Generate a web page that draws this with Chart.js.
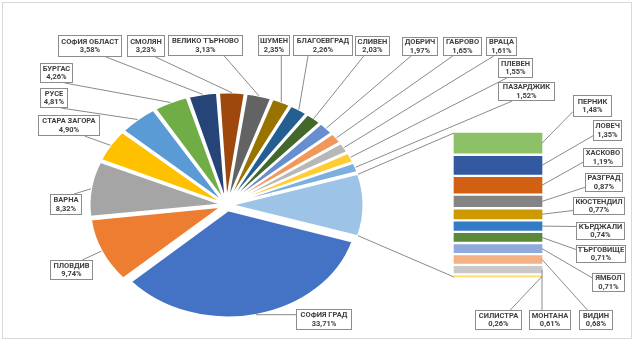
<!DOCTYPE html>
<html>
<head>
<meta charset="utf-8">
<script src="https://cdn.jsdelivr.net/npm/chart.js@4.4.1/dist/chart.umd.min.js"></script>
<style>
    html, body { margin: 0; padding: 0; background: #fff; }
    #wrap { position: relative; width: 635px; height: 344px; overflow: hidden; }
    #wrap canvas { position: absolute; left: 0; top: 0; }
    #frame { position: absolute; left: 2px; top: 2px; width: 628px; height: 335px; border: 1px solid #d9d9d9; }
</style>
</head>
<body>
<div id="wrap">
    <div id="frame"></div>
    <canvas id="barChart" width="635" height="344"></canvas>
    <canvas id="pieChart" width="635" height="344"></canvas>
</div>
<script>
// Pie slices (clockwise from the "other" slice)
const pieNames = ['СОФИЯ ГРАД', 'ПЛОВДИВ', 'ВАРНА', 'СТАРА ЗАГОРА', 'РУСЕ', 'БУРГАС', 'СОФИЯ ОБЛАСТ', 'СМОЛЯН',
    'ВЕЛИКО ТЪРНОВО', 'ШУМЕН', 'БЛАГОЕВГРАД', 'СЛИВЕН', 'ДОБРИЧ', 'ГАБРОВО', 'ВРАЦА', 'ПЛЕВЕН', 'ПАЗАРДЖИК'];
const pieValues = [33.71, 9.74, 8.32, 4.90, 4.81, 4.26, 3.58, 3.23, 3.13, 2.35, 2.26, 2.03, 1.97, 1.65, 1.61, 1.55, 1.52];

// Secondary bar (the "other" slice split up)
const barNames = ['ПЕРНИК', 'ЛОВЕЧ', 'ХАСКОВО', 'РАЗГРАД', 'КЮСТЕНДИЛ', 'КЪРДЖАЛИ', 'ТЪРГОВИЩЕ', 'ЯМБОЛ', 'ВИДИН', 'МОНТАНА', 'СИЛИСТРА'];
const barValues = [1.48, 1.35, 1.19, 0.87, 0.77, 0.74, 0.71, 0.71, 0.68, 0.61, 0.26];

const pieColors = ['#4472C4', '#ED7D31', '#A5A5A5', '#FFC000', '#5B9BD5', '#70AD47', '#264478', '#9E480E',
    '#636363', '#997300', '#255E91', '#43682B', '#698ED0', '#F1975A', '#B7B7B7', '#FFCD33', '#7CAFDD'];
const otherColor = '#9DC3E6';
const barColors = ['#8CC168', '#335AA1', '#D26012', '#848484', '#CC9A00', '#317CC4', '#5A8A39', '#8FAADC', '#F4B183', '#C9C9C9', '#FFD966'];

// label boxes [x, y, w, h]
const pieBoxes = [
    [296, 309, 56, 21], [50, 260, 43, 20], [50, 194, 32, 21], [38, 115, 62, 21], [40, 88, 28, 20],
    [40, 63, 33, 20], [58, 35, 64, 22], [127, 35, 38, 22], [168, 35, 75, 21], [258, 35, 32, 21],
    [293, 35, 60, 21], [355, 36, 35, 20], [402, 37, 36, 19], [443, 37, 39, 19], [486, 37, 31, 19],
    [498, 58, 35, 20], [498, 82, 57, 19]
];
const barBoxes = [
    [573, 95, 39, 22], [593, 120, 29, 21], [583, 148, 40, 19], [585, 173, 38, 19], [573, 197, 52, 18],
    [576, 222, 49, 18], [576, 245, 50, 18], [592, 273, 33, 19], [579, 310, 34, 20], [529, 310, 42, 20],
    [475, 310, 47, 20]
];

const SY = 0.82;     // vertical squash of the pie
const EXPLODE = 8;   // px each slice is pulled out
const otherTotal = barValues.reduce((a, b) => a + b, 0);
const pieData = pieValues.concat([otherTotal]);
const grandTotal = pieData.reduce((a, b) => a + b, 0);
const otherAngle = otherTotal / grandTotal * 360;

// Chart.js moves an arc by offset/4 * (2 - sin(circ)), so undo that to get an even explode
const pieOffsets = pieData.map(v => {
    const circ = v / grandTotal * Math.PI * 2;
    return 4 * EXPLODE / (2 - Math.sin(Math.min(Math.PI, circ)));
});

function fmt(v) {
    return v.toFixed(2).replace('.', ',') + '%';
}

const barChart = new Chart(document.getElementById('barChart'), {
    type: 'bar',
    data: {
        labels: ['Други'],
        datasets: barNames.map((n, i) => ({
            label: n,
            data: [barValues[i]],
            backgroundColor: barColors[i],
            borderColor: '#fff',
            borderWidth: 1.5,
            borderSkipped: false,
            categoryPercentage: 1,
            barPercentage: 1
        }))
    },
    options: {
        responsive: false,
        animation: false,
        devicePixelRatio: 1,
        layout: { padding: { left: 452.5, right: 635 - 543.5, top: 131.5, bottom: 344 - 278.5 } },
        plugins: { legend: { display: false }, tooltip: { enabled: false } },
        scales: {
            x: { display: false, stacked: true },
            y: { display: false, stacked: true, reverse: true, min: 0, max: otherTotal }
        }
    }
});

function box(ctx, b, name, value) {
    const [x, y, w, h] = b;
    ctx.fillStyle = '#fff';
    ctx.fillRect(x, y, w, h);
    ctx.strokeStyle = '#8c8c8c';
    ctx.lineWidth = 1;
    ctx.strokeRect(x + 0.5, y + 0.5, w - 1, h - 1);
    ctx.fillStyle = '#404040';
    ctx.font = 'bold 7.5px Roboto';
    ctx.textAlign = 'center';
    ctx.textBaseline = 'middle';
    ctx.fillText(name, x + w / 2, y + h / 2 - 4);
    ctx.fillText(fmt(value), x + w / 2, y + h / 2 + 4.5);
}

function clamp(v, a, b) { return Math.max(a, Math.min(b, v)); }

// where a leader meets a label box
function attach(b, p, preferSide) {
    const [x, y, w, h] = b;
    const dx = p.x < x ? x - p.x : (p.x > x + w ? p.x - x - w : 0);
    const dy = p.y < y ? y - p.y : (p.y > y + h ? p.y - y - h : 0);
    const side = preferSide ? dx > dy : dy === 0;
    if (side) {
        return { x: p.x < x ? x : x + w, y: clamp(p.y, y + h * 0.25, y + h * 0.75) };
    }
    return { x: clamp(p.x, x + w * 0.25, x + w * 0.75), y: p.y < y ? y : y + h };
}

function line(ctx, a, b) {
    ctx.beginPath();
    ctx.moveTo(a.x, a.y);
    ctx.lineTo(b.x, b.y);
    ctx.stroke();
}

const ellipsePlugin = {
    id: 'ellipse',
    beforeDatasetsDraw(chart) {
        const arc = chart.getDatasetMeta(0).data[0];
        const ctx = chart.ctx;
        ctx.save();
        ctx.translate(arc.x, arc.y);
        ctx.scale(1, SY);
        ctx.translate(-arc.x, -arc.y);
    },
    afterDatasetsDraw(chart) {
        chart.ctx.restore();
    }
};

const labelPlugin = {
    id: 'labels',
    afterDraw(chart) {
        const ctx = chart.ctx;
        const arcs = chart.getDatasetMeta(0).data;
        ctx.save();
        ctx.strokeStyle = '#8a8a8a';
        ctx.lineWidth = 1;

        // series lines from the "other" slice to the bar
        const oa = arcs[arcs.length - 1];
        const mid = (oa.startAngle + oa.endAngle) / 2;
        const ox = Math.cos(mid) * EXPLODE, oy = Math.sin(mid) * EXPLODE;
        const edge = a => ({
            x: oa.x + ox + Math.cos(a) * oa.outerRadius,
            y: oa.y + (oy + Math.sin(a) * oa.outerRadius) * SY
        });
        const bar0 = barChart.getDatasetMeta(0).data[0];
        const bx = bar0.x - bar0.width / 2 + 1.5;
        const ys = barChart.scales.y;
        line(ctx, edge(oa.startAngle), { x: bx, y: ys.getPixelForValue(0) + 1.5 });
        line(ctx, edge(oa.endAngle), { x: bx, y: ys.getPixelForValue(otherTotal) - 1.5 });

        // pie leaders
        pieNames.forEach((n, i) => {
            const a = arcs[i];
            const m = (a.startAngle + a.endAngle) / 2;
            const r = a.outerRadius + EXPLODE;
            const p = { x: a.x + Math.cos(m) * r, y: a.y + Math.sin(m) * r * SY };
            line(ctx, p, attach(pieBoxes[i], p, false));
        });

        // bar leaders
        barNames.forEach((n, i) => {
            const el = barChart.getDatasetMeta(i).data[0];
            const p = { x: el.x + el.width / 2 - 1.5, y: (el.y + el.base) / 2 };
            line(ctx, p, attach(barBoxes[i], p, true));
        });

        pieNames.forEach((n, i) => box(ctx, pieBoxes[i], n, pieValues[i]));
        barNames.forEach((n, i) => box(ctx, barBoxes[i], n, barValues[i]));
        ctx.restore();
    }
};

new Chart(document.getElementById('pieChart'), {
    type: 'pie',
    data: {
        labels: pieNames.concat(['ДРУГИ']),
        datasets: [{
            data: pieData,
            backgroundColor: pieColors.concat([otherColor]),
            borderColor: '#fff',
            borderWidth: 2,
            offset: pieOffsets,
            radius: 129
        }]
    },
    options: {
        responsive: false,
        animation: false,
        devicePixelRatio: 1,
        rotation: 90 + otherAngle / 2,
        layout: { padding: { left: 91.5, right: 273.5, top: 70, bottom: 4 } },
        plugins: { legend: { display: false }, tooltip: { enabled: false } }
    },
    plugins: [ellipsePlugin, labelPlugin]
});
</script>
</body>
</html>
